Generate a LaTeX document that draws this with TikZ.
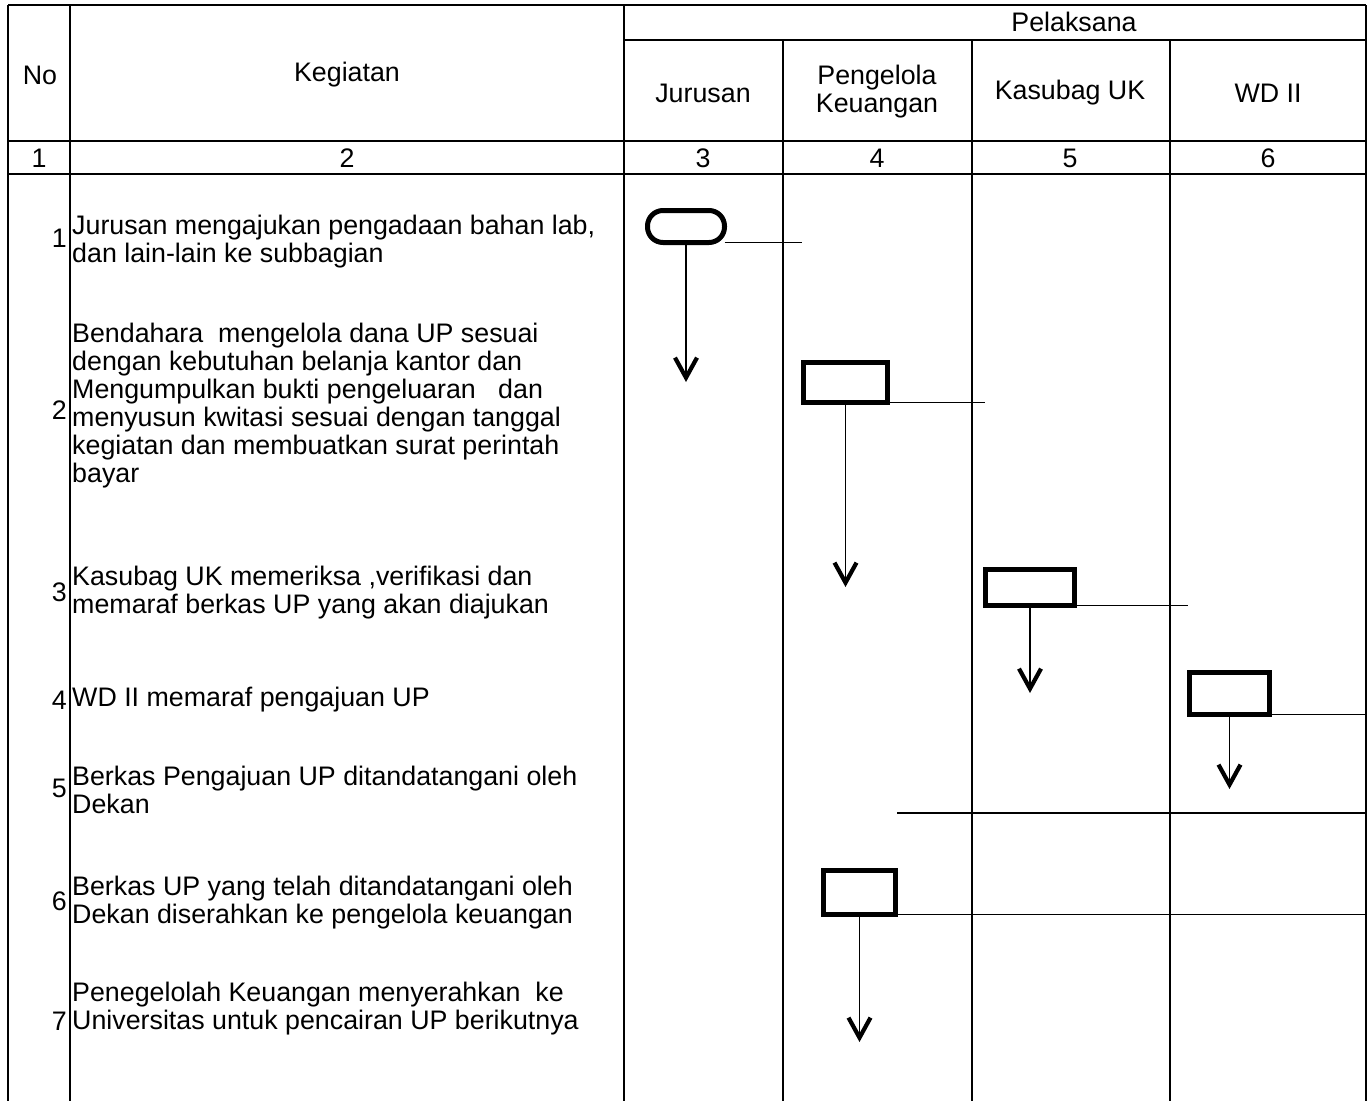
\documentclass[tikz,border=0pt]{standalone}
\usepackage{fontspec}
\setmainfont{Liberation Sans}
\usetikzlibrary{arrows.meta}
\begin{document}
\begin{tikzpicture}[x=1pt,y=-1pt,
  grid/.style={line width=1.8pt},
  conn/.style={line width=1.5pt},
  flowarrow/.style={conn,-{Straight Barb[length=20pt,width=22pt,line width=4.2pt]}},
  txt/.style={inner sep=0pt, font=\fontsize{26.8}{28}\selectfont},
  body/.style={txt, anchor=west, align=left},
  num/.style={txt, anchor=east},
  hdr/.style={txt, align=center},
  procbox/.style={draw, line width=5pt, inner sep=0pt, outer sep=0pt},
  termbox/.style={procbox, rounded corners=15.5pt}
]
\useasboundingbox (0,0) rectangle (1367,1101);
\fill[white] (0,0) rectangle (1367,1101);

% grid
\draw[grid] (8,5) -- (1366,5);
\draw[grid] (624,40) -- (1366,40);
\draw[grid] (8,141) -- (1366,141);
\draw[grid] (8,174) -- (1366,174);
\draw[grid] (8,5) -- (8,1101);
\draw[grid] (70,5) -- (70,1101);
\draw[grid] (624,5) -- (624,1101);
\draw[grid] (783,40) -- (783,1101);
\draw[grid] (972,40) -- (972,1101);
\draw[grid] (1170,40) -- (1170,1101);
\draw[grid] (1366,5) -- (1366,1101);

% header texts
\node[hdr] (hNo) at (40,75) {No};
\node[hdr] (hKeg) at (347,75) {Kegiatan};
\node[hdr] (hPel) at (1074,22) {Pelaksana};
\node[hdr] (hJur) at (703,93) {Jurusan};
\node[hdr] (hPK) at (877,92) {Pengelola\\Keuangan};
\node[hdr] (hKas) at (1070,93) {Kasubag UK};
\node[hdr] (hWD) at (1268,93) {WD II};
\node[hdr] (n1) at (39,158) {1};
\node[hdr] (n2) at (347,158) {2};
\node[hdr] (n3) at (703,158) {3};
\node[hdr] (n4) at (877,158) {4};
\node[hdr] (n5) at (1070,158) {5};
\node[hdr] (n6) at (1268,158) {6};

% row numbers
\node[num] (r1) at (67,238) {1};
\node[num] (r2) at (67,410) {2};
\node[num] (r3) at (67,592) {3};
\node[num] (r4) at (67,700) {4};
\node[num] (r5) at (67,788) {5};
\node[num] (r6) at (67,901) {6};
\node[num] (r7) at (67,1021) {7};

% activity texts
\node[body] (k1) at (72,242) {Jurusan mengajukan pengadaan bahan lab,\\dan lain-lain ke subbagian};
\node[body] (k2) at (72,406) {Bendahara\ \ mengelola dana UP sesuai\\dengan kebutuhan belanja kantor dan\\Mengumpulkan bukti pengeluaran\ \ \ dan\\menyusun kwitasi sesuai dengan tanggal\\kegiatan dan membuatkan surat perintah\\bayar};
\node[body] (k3) at (72,593) {Kasubag UK memeriksa ,verifikasi dan\\memaraf berkas UP yang akan diajukan};
\node[body] (k4) at (72,700) {WD II memaraf pengajuan UP};
\node[body] (k5) at (72,790) {Berkas Pengajuan UP ditandatangani oleh\\Dekan};
\node[body] (k6) at (72,903) {Berkas UP yang telah ditandatangani oleh\\Dekan diserahkan ke pengelola keuangan};
\node[body] (k7) at (72,1009) {Penegelolah Keuangan menyerahkan\ \ ke\\Universitas untuk pencairan UP berikutnya};

% flow shapes
\node[termbox, minimum width=77pt, minimum height=32pt] (T1) at (686,226.5) {};
\node[procbox, minimum width=84pt, minimum height=40pt] (B2) at (845.5,382.5) {};
\node[procbox, minimum width=89pt, minimum height=36pt] (B3) at (1030,587.5) {};
\node[procbox, minimum width=80pt, minimum height=42pt] (B4) at (1229.5,693.5) {};
\node[procbox, minimum width=72pt, minimum height=44pt] (B6) at (859.5,892.5) {};

% connector end points
\coordinate (a1) at (686,382);
\coordinate (a2) at (845.5,587);
\coordinate (a3) at (1030,693);
\coordinate (a4) at (1229.5,789);
\coordinate (a6) at (859.5,1042);
\coordinate (s1) at (802,242.5);
\coordinate (s2) at (985,402.5);
\coordinate (s3) at (1188,605.5);
\coordinate (s4) at (1367,714.5);
\coordinate (s6) at (1367,914.5);
\coordinate (l5a) at (897,813);
\coordinate (l5b) at (1367,813);

% connectors
\draw[flowarrow] (T1.south) -- (a1);
\draw[flowarrow] (B2.south) -- (a2);
\draw[flowarrow] (B3.south) -- (a3);
\draw[flowarrow] (B4.south) -- (a4);
\draw[flowarrow] (B6.south) -- (a6);
\draw[conn] (T1.south east) -- (s1);
\draw[conn] (B2.south east) -- (s2);
\draw[conn] (B3.south east) -- (s3);
\draw[conn] (B4.south east) -- (s4);
\draw[conn] (B6.south east) -- (s6);
\draw[conn] (l5a) -- (l5b);
\end{tikzpicture}
\end{document}
